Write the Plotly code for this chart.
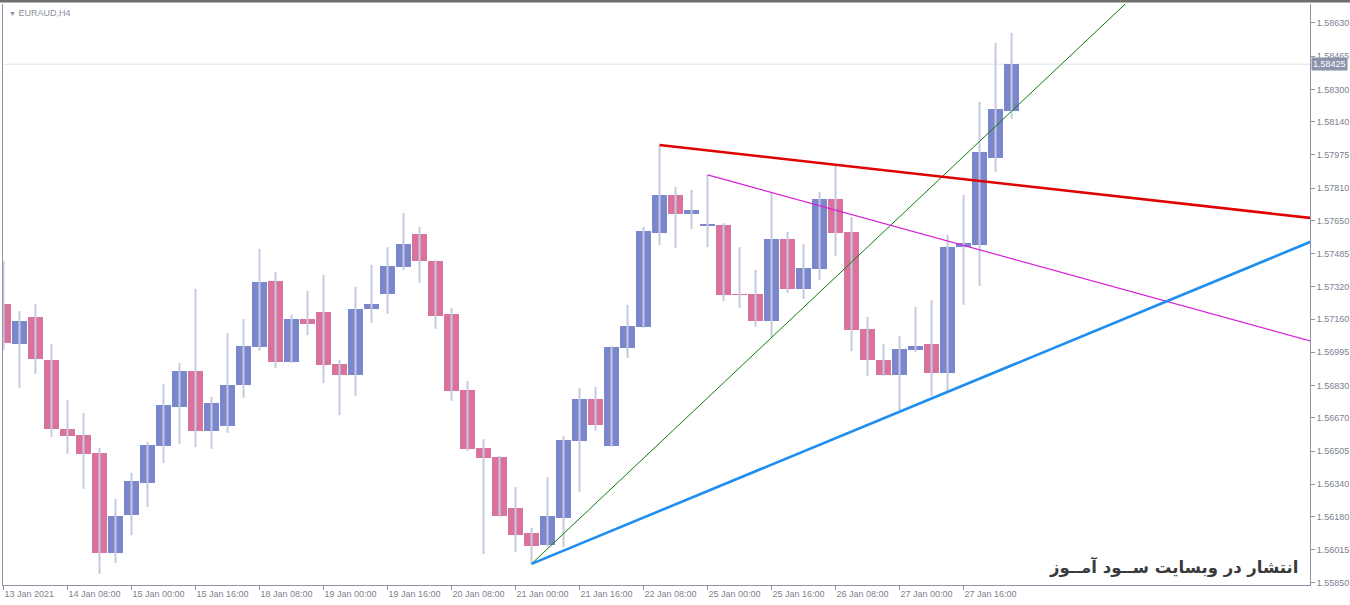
import plotly.graph_objects as go

# ---- data (EURAUD H4, bars indexed from 13 Jan 2021 16:00) ----
bar_index = list(range(64))
open_ = [1.57235, 1.57037, 1.57171, 1.56957, 1.56615, 1.56585, 1.56496, 1.55999, 1.56188, 1.56347,
         1.56530, 1.56724, 1.56903, 1.56605, 1.56630, 1.56833, 1.57022, 1.57349, 1.56947, 1.57161,
         1.57195, 1.56937, 1.56883, 1.57210, 1.57285, 1.57419, 1.57583, 1.57449, 1.57186, 1.56808,
         1.56520, 1.56476, 1.56223, 1.56098, 1.56039, 1.56173, 1.56555, 1.56764, 1.56530, 1.57017,
         1.57121, 1.57588, 1.57776, 1.57682, 1.57624, 1.57627, 1.57285, 1.57285, 1.57151, 1.57558,
         1.57310, 1.57409, 1.57756, 1.57593, 1.57111, 1.56957, 1.56883, 1.57007, 1.57037, 1.56893,
         1.57518, 1.57528, 1.57960, 1.58193]
high = [1.57449, 1.57200, 1.57235, 1.57037, 1.56759, 1.56694, 1.56520, 1.56267, 1.56396, 1.56550,
        1.56838, 1.56942, 1.57310, 1.56774, 1.57091, 1.57161, 1.57508, 1.57394, 1.57181, 1.57300,
        1.57379, 1.56957, 1.57320, 1.57429, 1.57518, 1.57687, 1.57617, 1.57454, 1.57215, 1.56853,
        1.56565, 1.56481, 1.56327, 1.56123, 1.56376, 1.56580, 1.56818, 1.56823, 1.57027, 1.57230,
        1.57617, 1.58024, 1.57816, 1.57801, 1.57876, 1.57637, 1.57518, 1.57404, 1.57786, 1.57593,
        1.57533, 1.57791, 1.57925, 1.57667, 1.57171, 1.57037, 1.57076, 1.57220, 1.57255, 1.57578,
        1.57776, 1.58238, 1.58531, 1.58580]
low = [1.57007, 1.56818, 1.56888, 1.56575, 1.56491, 1.56317, 1.55895, 1.55949, 1.56088, 1.56227,
       1.56446, 1.56540, 1.56525, 1.56515, 1.56595, 1.56769, 1.57002, 1.56917, 1.56942, 1.57081,
       1.56843, 1.56684, 1.56778, 1.57141, 1.57186, 1.57404, 1.57339, 1.57111, 1.56754, 1.56505,
       1.55994, 1.56178, 1.56004, 1.55945, 1.56029, 1.56029, 1.56302, 1.56605, 1.56525, 1.56967,
       1.57116, 1.57528, 1.57513, 1.57607, 1.57518, 1.57250, 1.57215, 1.57121, 1.57066, 1.57290,
       1.57260, 1.57354, 1.57473, 1.57002, 1.56878, 1.56878, 1.56709, 1.56997, 1.56778, 1.56798,
       1.57230, 1.57324, 1.57890, 1.58153]
close = [1.57042, 1.57151, 1.56962, 1.56615, 1.56580, 1.56491, 1.55999, 1.56183, 1.56356, 1.56535,
         1.56734, 1.56903, 1.56605, 1.56744, 1.56833, 1.57027, 1.57344, 1.56947, 1.57161, 1.57136,
         1.56932, 1.56883, 1.57210, 1.57235, 1.57424, 1.57533, 1.57449, 1.57176, 1.56803, 1.56515,
         1.56471, 1.56183, 1.56088, 1.56034, 1.56183, 1.56560, 1.56764, 1.56635, 1.57022, 1.57126,
         1.57598, 1.57776, 1.57682, 1.57702, 1.57631, 1.57280, 1.57282, 1.57151, 1.57558, 1.57310,
         1.57414, 1.57756, 1.57588, 1.57106, 1.56957, 1.56883, 1.57012, 1.57027, 1.56893, 1.57518,
         1.57538, 1.57990, 1.58203, 1.58425]

time_tick_index = [0, 4, 8, 12, 16, 20, 24, 28, 32, 36, 40, 44, 48, 52, 56, 60]
time_tick_labels = ["13 Jan 2021", "14 Jan 08:00", "15 Jan 00:00", "15 Jan 16:00", "18 Jan 08:00",
                    "19 Jan 00:00", "19 Jan 16:00", "20 Jan 08:00", "21 Jan 00:00", "21 Jan 16:00",
                    "22 Jan 08:00", "25 Jan 00:00", "25 Jan 16:00", "26 Jan 08:00", "27 Jan 00:00",
                    "27 Jan 16:00"]
price_ticks = [1.58630, 1.58465, 1.58300, 1.58140, 1.57975, 1.57810, 1.57650, 1.57485, 1.57320,
               1.57160, 1.56995, 1.56830, 1.56670, 1.56505, 1.56340, 1.56180, 1.56015, 1.55850]
price_tick_labels = ["1.58630", "1.58465", "1.58300", "1.58140", "1.57975", "1.57810", "1.57650",
                     "1.57485", "1.57320", "1.57160", "1.56995", "1.56830", "1.56670", "1.56505",
                     "1.56340", "1.56180", "1.56015", "1.55850"]

# trend lines: [start bar, end bar], [start price, end price]
green_x, green_y = [33, 72], [1.55945, 1.58866]
blue_x, blue_y = [33, 82], [1.55945, 1.57554]
red_x, red_y = [41, 82], [1.58024, 1.57659]
magenta_x, magenta_y = [44, 82], [1.57876, 1.57044]

symbol_label = "EURAUD,H4"
watermark = "انتشار در وبسایت ســود آمــوز"

# ---- styles ----
BULL = "#7b87cc"
BEAR = "#d9729d"
WICK = "#c6cadf"
AXIS = "#8e93a3"
TXT = "#7d7f8f"
FONT = "Liberation Sans"

fig = go.Figure()

wx, wy = [], []
for i, h, l in zip(bar_index, high, low):
    wx += [i, i, None]
    wy += [l, h, None]
fig.add_trace(go.Scatter(x=wx, y=wy, mode="lines", line=dict(color=WICK, width=2),
                         hoverinfo="skip", showlegend=False))

base = [min(o, c) for o, c in zip(open_, close)]
height = [abs(c - o) for o, c in zip(open_, close)]
colors = [BULL if c >= o else BEAR for o, c in zip(open_, close)]
fig.add_trace(go.Bar(x=bar_index, y=height, base=base, width=0.92,
                     marker=dict(color=colors, line=dict(width=0)), showlegend=False))

for xs, ys, col, w in [(green_x, green_y, "#0a7d0a", 1), (magenta_x, magenta_y, "#d81fd8", 1.2),
                       (blue_x, blue_y, "#1e8ef0", 2.6), (red_x, red_y, "#e00000", 2.6)]:
    fig.add_trace(go.Scatter(x=xs, y=ys, mode="lines", line=dict(color=col, width=w),
                             hoverinfo="skip", showlegend=False))

fig.update_layout(
    width=1350, height=605,
    margin=dict(l=3, r=40, t=4, b=20, autoexpand=False),
    paper_bgcolor="white", plot_bgcolor="white",
    barmode="overlay", bargap=0,
    showlegend=False,
    font=dict(family=FONT, size=9, color=TXT),
    xaxis=dict(range=[-0.03, 81.65], tickmode="array", tickvals=time_tick_index,
               ticktext=time_tick_labels, ticks="outside", ticklen=4, tickcolor=AXIS,
               ticklabelposition="outside right", showgrid=False, zeroline=False,
               showline=True, linecolor=AXIS, linewidth=1,
               tickfont=dict(family=FONT, size=9, color=TXT)),
    yaxis=dict(range=[1.55840, 1.58724], side="right", tickmode="array",
               tickvals=price_ticks, ticktext=price_tick_labels, ticks="outside",
               ticklen=4, tickcolor=AXIS, showgrid=False, zeroline=False,
               showline=True, mirror=True, linecolor=AXIS, linewidth=1,
               tickfont=dict(family=FONT, size=9, color=TXT)),
)

# current price line
fig.add_shape(type="line", xref="paper", x0=0, x1=1, yref="y", y0=close[-1], y1=close[-1],
              line=dict(color="#e2e4ec", width=1), layer="below")
# top window border
fig.add_shape(type="rect", xref="paper", x0=-0.01, x1=1.05, yref="paper",
              y0=1 + 1.6 / 581, y1=1 + 6 / 581, fillcolor="#6e6e6e", line=dict(width=0))

fig.add_annotation(xref="paper", x=1, xanchor="left", yref="y", y=close[-1], yanchor="middle",
                   text="%.5f" % close[-1], showarrow=False, bgcolor="#8d93ab",
                   font=dict(family=FONT, size=9, color="white"), borderpad=1, xshift=1)
fig.add_annotation(xref="paper", x=0, xanchor="left", yref="paper", y=1, yanchor="top",
                   xshift=4, yshift=-2, showarrow=False,
                   text="<span style='font-size:7px'>▼</span> " + symbol_label,
                   font=dict(family=FONT, size=9, color="#8a8ea0"))
fig.add_annotation(xref="paper", x=1, xanchor="right", xshift=-10, yref="paper", y=0,
                   yanchor="bottom", yshift=5, showarrow=False,
                   text="<b>" + watermark + "</b>",
                   font=dict(family="DejaVu Sans", size=16.5, color="#3a3a3a"))

fig.write_html("out.html", config={"displayModeBar": False, "staticPlot": True},
               post_script="document.body.style.margin='0';document.body.style.overflow='hidden';")
